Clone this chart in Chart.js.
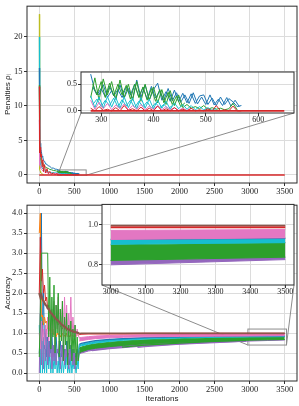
<!DOCTYPE html>
<html><head><meta charset="utf-8">
<script src="https://cdn.jsdelivr.net/npm/chart.js@4.4.1/dist/chart.umd.min.js"></script>
<style>
html,body{margin:0;padding:0;background:#fff;}
#wrap{position:relative;width:299px;height:406px;overflow:hidden;background:#fff;}
canvas{position:absolute;}
</style></head><body>
<div id="wrap">
<canvas id="c1" width="299" height="199" style="left:0px;top:0px;width:299px;height:199px"></canvas>
<canvas id="c2" width="299" height="207" style="left:0px;top:199px;width:299px;height:207px"></canvas>
<canvas id="c3" width="239" height="58" style="left:60px;top:66px;width:239px;height:58px"></canvas>
<canvas id="c4" width="219" height="97" style="left:80px;top:199px;width:219px;height:97px"></canvas>
</div>
<script>
// ---------- tick values / labels ----------
const X_TICKS = [0, 500, 1000, 1500, 2000, 2500, 3000, 3500];
const X_LABELS = ['0', '500', '1000', '1500', '2000', '2500', '3000', '3500'];
const PEN_Y_TICKS = [0, 5, 10, 15, 20];
const PEN_Y_LABELS = ['0', '5', '10', '15', '20'];
const ACC_Y_TICKS = [0, 0.5, 1, 1.5, 2, 2.5, 3, 3.5, 4];
const ACC_Y_LABELS = ['0.0', '0.5', '1.0', '1.5', '2.0', '2.5', '3.0', '3.5', '4.0'];
const PEN_IN_X_TICKS = [300, 400, 500, 600];
const PEN_IN_X_LABELS = ['300', '400', '500', '600'];
const PEN_IN_Y_TICKS = [0, 0.5];
const PEN_IN_Y_LABELS = ['0.0', '0.5'];
const ACC_IN_X_TICKS = [3000, 3100, 3200, 3300, 3400, 3500];
const ACC_IN_X_LABELS = ['3000', '3100', '3200', '3300', '3400', '3500'];
const ACC_IN_Y_TICKS = [0.8, 1.0];
const ACC_IN_Y_LABELS = ['0.8', '1.0'];

// ---------- penalties (top) ----------
const PEN_X = [0, 2, 5, 10, 15, 20, 30, 40, 50, 60, 75, 90, 110, 130, 150, 175, 200, 225, 250, 270,
  280, 288, 296, 304, 312, 320, 328, 336, 344, 352, 360, 368, 376, 384, 392, 400, 408, 416, 424, 432,
  440, 448, 456, 464, 472, 480, 488, 496, 504, 512, 520, 528, 536, 544, 552, 560, 568];
const PEN_OLIVE = [23.3, 3.0, 1.5, 0.8, 0.5, 0.3, 0.2, 0.15, 0.1, 0.08];
const PEN_CYAN = [20.0, 5.0, 3.0, 2.2, 1.8, 1.5, 1.2, 1.0, 0.9, 0.8, 0.7, 0.6, 0.5, 0.45, 0.4, 0.36, 0.33, 0.3, 0.29, 0.28,
  0.28, 0.06, 0.26, 0.05, 0.27, 0.07, 0.25, 0.05, 0.26, 0.06, 0.24, 0.04, 0.25, 0.05, 0.22, 0.04, 0.2, 0.05, 0.18, 0.03,
  0.15, 0.04, 0.12, 0.03, 0.1, 0.02, 0.08, 0.02, 0.06, 0.01, 0.05];
const PEN_BLUE = [15.5, 9.0, 6.8, 5.2, 4.6, 3.8, 3.4, 2.7, 2.6, 2.1, 2.0, 1.6, 1.55, 1.3, 1.25, 1.0, 1.0, 0.85, 0.82, 0.72,
  0.69, 0.38, 0.3, 0.49, 0.25, 0.38, 0.22, 0.49, 0.24, 0.42, 0.22, 0.58, 0.25, 0.49, 0.2, 0.4, 0.52, 0.2, 0.36, 0.18,
  0.39, 0.17, 0.33, 0.15, 0.32, 0.14, 0.28, 0.3, 0.12, 0.24, 0.1, 0.26, 0.12, 0.23, 0.17, 0.08, 0.1];
const PEN_GREEN = [13.0, 4.5, 3.6, 2.9, 2.5, 2.2, 1.9, 1.75, 1.5, 1.45, 1.2, 1.15, 1.0, 0.95, 0.8, 0.75, 0.65, 0.62, 0.55, 0.5,
  0.25, 0.62, 0.2, 0.6, 0.3, 0.55, 0.22, 0.58, 0.25, 0.5, 0.2, 0.55, 0.18, 0.5, 0.2, 0.45, 0.15, 0.4, 0.12, 0.38,
  0.1, 0.3, 0.06, 0.12, 0.05, 0.08, 0.04, 0.1, 0.03, 0.06, 0.03, 0.05, 0.02, 0.04, 0.14, 0.02];
const PEN_PINK = [8.0, 3.0, 2.0, 1.5, 1.2, 1.0, 0.8, 0.7, 0.6, 0.5, 0.45, 0.4, 0.35, 0.3, 0.28, 0.25, 0.22, 0.2, 0.18, 0.2,
  0.2, 0.03, 0.16, 0.04, 0.14, 0.02, 0.11, 0.04, 0.13, 0.02, 0.1, 0.03, 0.12, 0.02, 0.09, 0.03, 0.1, 0.02, 0.08, 0.02,
  0.06, 0.01, 0.05, 0.01, 0.04];
const PEN_RED = [12.8, 5.5, 4.8, 3.2, 4.0, 2.6, 3.0, 1.2, 2.2, 0.5, 1.5, 0.3, 0.9, 0.2, 0.5, 0.1, 0.3, 0.05, 0.2, 0.05,
  0.05, 0.0, 0.08, 0.01, 0.03, 0.0, 0.06, 0.0, 0.1, 0.01, 0.04, 0.0, 0.07, 0.0, 0.05, 0.0, 0.09, 0.0, 0.04, 0.0,
  0.06, 0.0, 0.03, 0.0, 0.05, 0.0, 0.02, 0.0, 0.04, 0.0, 0.1, 0.0, 0.02, 0.0, 0.09, 0.0, 0.0];
// second runs, sampled between the first ones
const PEN_X2 = [284, 292, 300, 308, 316, 324, 332, 340, 348, 356, 364, 372, 380, 388, 396, 404, 412, 420, 428, 436,
  444, 452, 460, 468, 476, 484, 492, 500, 508, 516, 524, 532, 540, 548, 556, 564];
const PEN_BLUE2 = [0.45, 0.3, 0.42, 0.26, 0.46, 0.28, 0.4, 0.25, 0.45, 0.3, 0.5, 0.26, 0.44, 0.22, 0.46, 0.24, 0.38, 0.2, 0.42, 0.19,
  0.34, 0.16, 0.3, 0.14, 0.34, 0.13, 0.26, 0.12, 0.3, 0.11, 0.22, 0.1, 0.25, 0.09, 0.2, 0.08];
const PEN_GREEN2 = [0.5, 0.3, 0.55, 0.25, 0.52, 0.28, 0.5, 0.3, 0.48, 0.22, 0.5, 0.25, 0.45, 0.2, 0.42, 0.18, 0.4, 0.15, 0.35, 0.12,
  0.28, 0.08, 0.15];
const PEN_CYAN2 = [0.12, 0.22, 0.08, 0.2, 0.1, 0.24, 0.07, 0.21, 0.09, 0.2, 0.06, 0.18, 0.08, 0.17, 0.05, 0.15, 0.06, 0.12, 0.04, 0.1];
const PEN_FLAT_X = [0, 280, 650, 3500];
const PEN_FLAT_Y = [0, 0, 0, 0];

// ---------- accuracy (bottom), noisy phase ----------
const ACC_X = [0, 15, 30, 45, 60, 75, 90, 105, 120, 135, 150, 165, 180, 195, 210, 225, 240, 255, 270, 285,
  300, 315, 330, 345, 360, 375, 390, 405, 420, 435, 450, 465, 480, 495, 510, 525, 540, 555, 570];
const ACC_BLUE = [0.5, 1.2, 4.0, 0.8, 2.1, 0.6, 1.1, 0.4, 0.9, 0.3, 0.8, 0.5, 1.0, 0.4, 0.7, 0.3, 0.9, 0.5, 0.6, 0.2,
  0.8, 0.4, 0.7, 0.3, 0.6, 0.2, 0.8, 0.4, 0.5, 0.2, 0.7, 0.3, 0.6, 0.2, 0.5, 0.3, 0.6, 0.4, 0.72];
const ACC_ORANGE = [3.5, 4.0, 1.3, 1.45, 1.2, 1.4, 1.25, 1.3, 1.1, 1.25, 1.05, 1.15, 1.0, 1.1, 0.95, 1.05, 0.9, 1.0, 0.95, 1.0,
  0.9, 0.95, 1.0, 0.9, 0.95, 0.9, 1.0, 0.92, 0.95, 0.9, 0.97, 0.92, 0.95, 0.9, 0.95, 0.93, 0.96, 0.94, 0.95];
const ACC_RED = [2.0, 3.4, 2.3, 2.6, 2.0, 2.2, 1.8, 1.9, 1.6, 1.7, 1.5, 1.55, 1.4, 1.45, 1.3, 1.35, 1.25, 1.3, 1.2, 1.25,
  1.15, 1.2, 1.1, 1.15, 1.1, 1.12, 1.05, 1.1, 1.05, 1.08, 1.02, 1.05, 1.0, 1.03, 1.0, 1.02, 0.99, 1.0, 0.97];
const ACC_CYAN = [1.2, 0.0, 1.4, 0.0, 0.9, 0.0, 0.6, 0.0, 0.8, 0.1, 0.5, 0.0, 0.7, 0.0, 0.4, 0.1, 0.6, 0.0, 0.3, 0.0,
  0.5, 0.0, 0.4, 0.0, 0.3, 0.1, 0.5, 0.0, 0.2, 0.0, 0.4, 0.0, 0.3, 0.1, 0.2, 0.0, 0.3, 0.1, 0.66];
const ACC_PURPLE = [0.0, 1.5, 0.2, 1.2, 0.1, 0.9, 0.3, 1.1, 0.2, 0.8, 0.4, 1.0, 0.1, 0.7, 0.3, 0.9, 0.2, 0.6, 0.5, 0.8,
  0.1, 0.7, 0.3, 0.9, 0.2, 0.6, 0.4, 0.8, 0.1, 0.7, 0.3, 0.5, 0.2, 0.6, 0.1, 0.4, 0.3, 0.5, 0.48];
const ACC_PINK = [1.0, 0.6, 1.3, 0.8, 1.1, 0.7, 1.2, 0.9, 1.4, 0.8, 1.5, 0.9, 1.6, 1.0, 1.8, 0.9, 1.7, 1.1, 1.9, 0.9,
  1.6, 1.0, 1.8, 0.8, 1.9, 1.1, 1.7, 0.9, 1.5, 1.0, 1.9, 0.8, 1.4, 0.9, 1.2, 0.9, 1.1, 0.95, 0.88];
const ACC_GREEN = [0.4, 1.5, 3.0, 3.0, 3.0, 3.0, 3.0, 3.0, 3.0, 0.9, 2.4, 0.6, 1.9, 0.9, 2.2, 0.5, 1.7, 1.0, 2.0, 0.4,
  1.6, 0.8, 1.8, 0.3, 1.4, 0.7, 1.5, 0.2, 1.2, 0.6, 1.3, 0.3, 1.1, 0.5, 1.2, 0.2, 0.9, 0.3, 0.5];
const ACC_BROWN = [2.0, 1.9, 1.95, 1.85, 1.8, 1.75, 1.7, 1.68, 1.62, 1.6, 1.55, 1.5, 1.48, 1.44, 1.42, 1.38, 1.35, 1.33, 1.3, 1.28,
  1.25, 1.22, 1.2, 1.18, 1.16, 1.14, 1.12, 1.1, 1.09, 1.07, 1.06, 1.05, 1.04, 1.03, 1.02, 1.02, 1.01, 1.0, 0.99];

// ---------- accuracy, converged phase ----------
const ACC_X_LATE = [570, 600, 700, 800, 1000, 1200, 1500, 2000, 2500, 3000, 3250, 3500];
const ACC_PURPLE_LO = [0.48, 0.5, 0.55, 0.58, 0.62, 0.65, 0.69, 0.74, 0.78, 0.80, 0.813, 0.826];
const ACC_PURPLE_HI = [0.55, 0.56, 0.6, 0.63, 0.67, 0.7, 0.73, 0.77, 0.80, 0.822, 0.83, 0.838];
const ACC_GREEN_LO = [0.5, 0.53, 0.59, 0.62, 0.66, 0.69, 0.73, 0.77, 0.8, 0.822, 0.83, 0.838];
const ACC_GREEN_HI = [0.62, 0.65, 0.7, 0.73, 0.77, 0.8, 0.83, 0.86, 0.885, 0.899, 0.905, 0.91];
const ACC_CYAN_LO = [0.66, 0.68, 0.72, 0.75, 0.79, 0.82, 0.85, 0.875, 0.893, 0.902, 0.906, 0.91];
const ACC_CYAN_HI = [0.7, 0.72, 0.76, 0.79, 0.83, 0.855, 0.88, 0.9, 0.915, 0.923, 0.927, 0.93];
const ACC_BLUE_LATE = [0.72, 0.74, 0.78, 0.81, 0.84, 0.86, 0.885, 0.905, 0.918, 0.926, 0.929, 0.931];
const ACC_PINK_LO = [0.8, 0.81, 0.84, 0.86, 0.88, 0.895, 0.905, 0.915, 0.921, 0.926, 0.93, 0.934];
const ACC_PINK_HI = [0.88, 0.89, 0.91, 0.925, 0.94, 0.948, 0.956, 0.963, 0.968, 0.971, 0.973, 0.975];
const ACC_RED_LATE = [0.97, 0.975, 0.98, 0.982, 0.984, 0.985, 0.986, 0.986, 0.986, 0.986, 0.986, 0.986];
const ACC_BROWN_LATE = [0.99, 0.993, 0.995, 0.995, 0.995, 0.995, 0.995, 0.995, 0.995, 0.995, 0.995, 0.995];
// late-starting runs
const ACC_STEP1_X = [750, 1000, 1500, 2000, 2500, 2950];
const ACC_STEP1_Y = [0.56, 0.61, 0.68, 0.73, 0.77, 0.795];
const ACC_STEP2_X = [1400, 1500, 2000, 2500, 2950];
const ACC_STEP2_Y = [0.64, 0.66, 0.72, 0.76, 0.795];
const ACC_STEP3_X = [1180, 1500, 2000, 2500, 2950];
const ACC_STEP3_Y = [0.65, 0.7, 0.75, 0.79, 0.815];

// ---------- helpers ----------
const C = {blue:'#1f77b4', orange:'#ff7f0e', green:'#2ca02c', red:'#d62728', purple:'#9467bd',
  brown:'#8c564b', pink:'#e377c2', gray:'#7f7f7f', olive:'#bcbd22', cyan:'#17becf'};

function pts(xs, ys, lo, hi) {
  const out = [];
  for (let i = 0; i < ys.length; i++) {
    if (ys[i] === null || xs[i] < lo || xs[i] > hi) continue;
    out.push({x: xs[i], y: ys[i]});
  }
  return out;
}
function line(data, color, w) {
  return {data, borderColor: color, backgroundColor: color, borderWidth: w, pointRadius: 0, fill: false, tension: 0};
}
function band(ds, xs, lo, hi, color, a, b) {
  ds.push(line(pts(xs, lo, a, b), color, 1));
  const d = line(pts(xs, hi, a, b), color, 1);
  d.fill = '-1';
  ds.push(d);
}
function ordered(ds) { return ds.map((d, i) => Object.assign(d, {order: -i})); }

function penaltySets(lo, hi) {
  const ds = [];
  ds.push(line(pts(PEN_X, PEN_OLIVE, lo, hi), C.olive, 1));
  ds.push(line(pts(PEN_X, PEN_CYAN, lo, Math.min(hi, 280)), C.cyan, 1));
  ds.push(line(pts(PEN_X, PEN_BLUE, lo, hi), C.blue, 1));
  ds.push(line(pts(PEN_X2, PEN_BLUE2, lo, hi), C.blue, 1));
  ds.push(line(pts(PEN_X, PEN_GREEN, lo, hi), C.green, 1));
  ds.push(line(pts(PEN_X2, PEN_GREEN2, lo, hi), C.green, 1));
  ds.push(line(pts(PEN_X, PEN_CYAN, Math.max(lo, 280), hi), C.cyan, 1));
  ds.push(line(pts(PEN_X2, PEN_CYAN2, lo, hi), C.cyan, 1));
  ds.push(line(pts(PEN_X, PEN_PINK, lo, hi), C.pink, 1));
  ds.push(line(pts(PEN_X, PEN_RED, lo, hi), C.red, 1));
  ds.push(line(pts(PEN_FLAT_X, PEN_FLAT_Y, lo, hi), C.red, 1.6));
  return ordered(ds);
}
function accuracySets(lo, hi, inset) {
  const ds = [];
  [[ACC_BLUE, C.blue, 1], [ACC_ORANGE, C.orange, 1], [ACC_RED, C.red, 1], [ACC_CYAN, C.cyan, 1],
   [ACC_PURPLE, C.purple, 1], [ACC_PINK, C.pink, 1], [ACC_GREEN, C.green, 1], [ACC_BROWN, C.brown, 2.2]]
    .forEach(([ys, c, w]) => ds.push(line(pts(ACC_X, ys, lo, hi), c, w)));
  band(ds, ACC_X_LATE, ACC_PURPLE_LO, ACC_PURPLE_HI, C.purple, lo, hi);
  ds.push(line(pts(ACC_STEP1_X, ACC_STEP1_Y, lo, hi), C.purple, 1.2));
  ds.push(line(pts(ACC_STEP2_X, ACC_STEP2_Y, lo, hi), C.purple, 1.2));
  band(ds, ACC_X_LATE, ACC_GREEN_LO, ACC_GREEN_HI, C.green, lo, hi);
  ds.push(line(pts(ACC_STEP3_X, ACC_STEP3_Y, lo, hi), C.green, 1.2));
  band(ds, ACC_X_LATE, ACC_CYAN_LO, ACC_CYAN_HI, C.cyan, lo, hi);
  ds.push(line(pts(ACC_X_LATE, ACC_BLUE_LATE, lo, hi), C.blue, 1.2));
  band(ds, ACC_X_LATE, ACC_PINK_LO, ACC_PINK_HI, C.pink, lo, hi);
  ds.push(line(pts(ACC_X_LATE, ACC_RED_LATE, lo, hi), C.red, inset ? 2 : 1.5));
  ds.push(line(pts(ACC_X_LATE, ACC_BROWN_LATE, lo, hi), C.brown, 1.5));
  return ordered(ds);
}

const framePlugin = {id: 'frame', afterDraw(chart) {
  const a = chart.chartArea, ctx = chart.ctx;
  ctx.save(); ctx.strokeStyle = '#2a2a2a'; ctx.lineWidth = 1;
  ctx.strokeRect(a.left, a.top, a.right - a.left, a.bottom - a.top);
  ctx.restore();
}};
const whitePlugin = {id: 'whitebg', beforeDraw(chart) {
  const a = chart.chartArea, ctx = chart.ctx;
  ctx.save(); ctx.fillStyle = '#fff';
  ctx.fillRect(a.left, a.top, a.right - a.left, a.bottom - a.top);
  ctx.restore();
}};
function markPlugin(inset, ip, mp) {
  return {id: 'mark', beforeDatasetsDraw(chart) {
    const ctx = chart.ctx, xs = chart.scales.x, ys = chart.scales.y;
    const ix = inset.scales.x, iy = inset.scales.y, ia = inset.chartArea;
    const x0 = xs.getPixelForValue(ix.min), x1 = xs.getPixelForValue(ix.max);
    const y0 = ys.getPixelForValue(iy.min), y1 = ys.getPixelForValue(iy.max);
    const ox = ip.left - mp.left, oy = ip.top - mp.top;
    ctx.save(); ctx.strokeStyle = '#8c8c8c'; ctx.lineWidth = 1;
    ctx.strokeRect(x0, y1, x1 - x0, y0 - y1);
    ctx.beginPath();
    ctx.moveTo(ia.left + ox, ia.bottom + oy); ctx.lineTo(x0, y0);
    ctx.moveTo(ia.right + ox, ia.bottom + oy); ctx.lineTo(x1, y0);
    ctx.stroke(); ctx.restore();
  }};
}

function axis(o) {
  return {
    type: 'linear', min: o.min, max: o.max,
    afterBuildTicks: s => { s.ticks = o.ticks.map(v => ({value: v})); },
    afterFit: s => { if (o.w !== undefined) s.width = o.w; if (o.h !== undefined) s.height = o.h; },
    ticks: {autoSkip: false, maxRotation: 0, minRotation: 0, padding: o.pad, color: '#222',
      font: {family: 'Liberation Serif', size: o.fs, lineHeight: 1.1}, callback: (v, i) => o.labels[i]},
    grid: {color: '#dcdcdc', lineWidth: 1, tickLength: 3, tickColor: '#333', drawTicks: true},
    border: {display: false},
    title: o.title ? {display: true, text: o.title, color: '#222',
      font: {family: 'Liberation Sans', size: 8, lineHeight: 1.2}, padding: o.tpad} : {display: false}
  };
}
function options(pad, x, y) {
  return {
    responsive: false, animation: false, devicePixelRatio: 1, events: [],
    layout: {padding: pad, autoPadding: false},
    plugins: {legend: {display: false}, tooltip: {enabled: false}},
    scales: {x: axis(x), y: axis(y)}
  };
}

Chart.defaults.font.family = 'Liberation Serif';

// ---------- insets ----------
const P3 = {left: 60, top: 66}, P4 = {left: 80, top: 199}, P1 = {left: 0, top: 0}, P2 = {left: 0, top: 199};
const inset1 = new Chart(document.getElementById('c3'), {
  type: 'line',
  data: {datasets: penaltySets(280, 650)},
  options: options({top: 6, right: 5, left: 0, bottom: 0},
    {min: 261.5, max: 668.5, ticks: PEN_IN_X_TICKS, labels: PEN_IN_X_LABELS, h: 11, pad: 0, fs: 8},
    {min: -0.04, max: 0.73, ticks: PEN_IN_Y_TICKS, labels: PEN_IN_Y_LABELS, w: 21, pad: 1, fs: 8}),
  plugins: [whitePlugin, framePlugin]
});
const inset2 = new Chart(document.getElementById('c4'), {
  type: 'line',
  data: {datasets: accuracySets(3000, 3500, true)},
  options: options({top: 4, right: 5, left: 0, bottom: 0},
    {min: 2975, max: 3525, ticks: ACC_IN_X_TICKS, labels: ACC_IN_X_LABELS, h: 11, pad: 0, fs: 8},
    {min: 0.70, max: 1.10, ticks: ACC_IN_Y_TICKS, labels: ACC_IN_Y_LABELS, w: 22, pad: 1, fs: 8}),
  plugins: [whitePlugin, framePlugin]
});

// ---------- main charts ----------
new Chart(document.getElementById('c1'), {
  type: 'line',
  data: {datasets: penaltySets(-1, 4000)},
  options: options({top: 2, right: 2, left: 0, bottom: 0},
    {min: -175, max: 3675, ticks: X_TICKS, labels: X_LABELS, h: 16, pad: 1, fs: 8.5},
    {min: -1.165, max: 24.465, ticks: PEN_Y_TICKS, labels: PEN_Y_LABELS, w: 27, pad: 1.5, fs: 8.5,
     title: 'Penalties ρᵢ', tpad: {top: 3, bottom: 0}}),
  plugins: [markPlugin(inset1, P3, P1), framePlugin]
});
new Chart(document.getElementById('c2'), {
  type: 'line',
  data: {datasets: accuracySets(-1, 4000, false)},
  options: options({top: 1, right: 2, left: 0, bottom: 0},
    {min: -175, max: 3675, ticks: X_TICKS, labels: X_LABELS, h: 25, pad: 1, fs: 8.5,
     title: 'Iterations', tpad: {top: 0, bottom: 2}},
    {min: -0.2, max: 4.2, ticks: ACC_Y_TICKS, labels: ACC_Y_LABELS, w: 27, pad: 1.5, fs: 8.5,
     title: 'Accuracy', tpad: {top: 3, bottom: 0}}),
  plugins: [markPlugin(inset2, P4, P2), framePlugin]
});
</script>
</body></html>
